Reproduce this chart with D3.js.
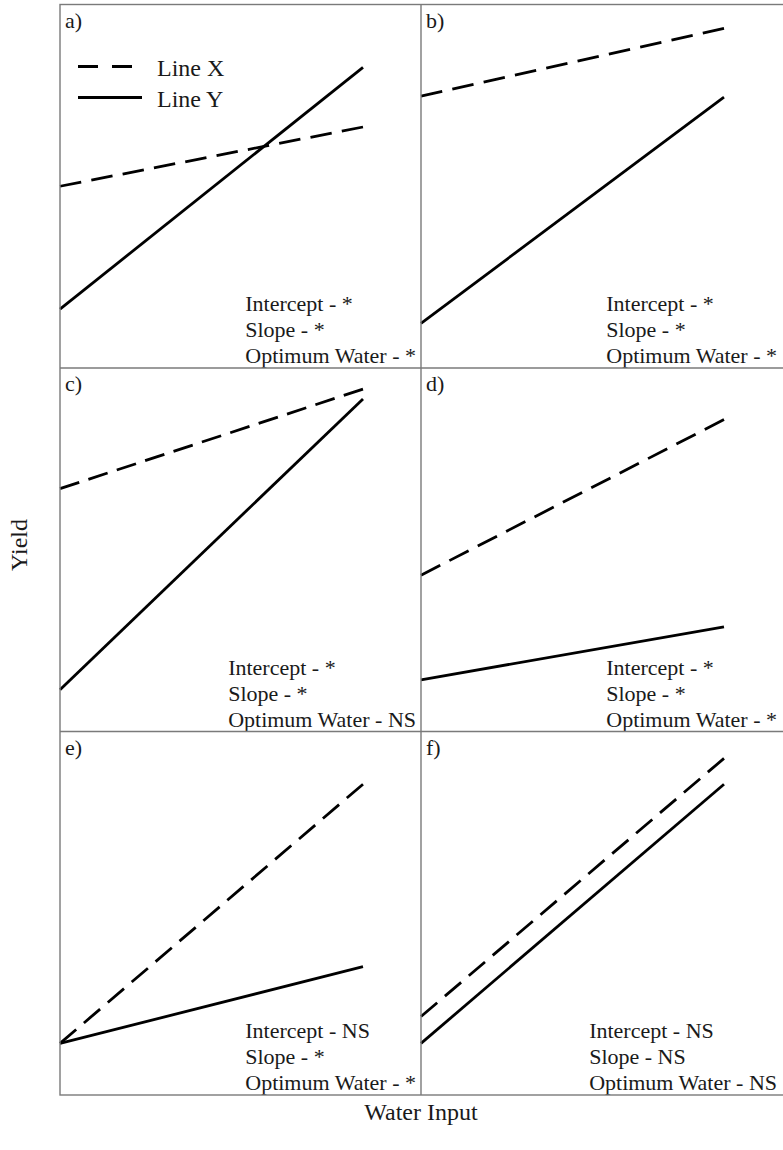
<!DOCTYPE html>
<html>
<head>
<meta charset="utf-8">
<script src="https://cdn.jsdelivr.net/npm/d3@7"></script>
<style>
  html, body { margin: 0; padding: 0; background: #fff; }
  svg { display: block; }
  text { font-family: "Liberation Serif", "Times New Roman", serif; fill: #1a1a1a; }
</style>
</head>
<body>
<svg id="chart" width="783" height="1150"></svg>
<script>
// ---- data ----
const panelLabels = ["a)", "b)", "c)", "d)", "e)", "f)"];
const waterInput = [0, 10];
const lineXStart = [5.0, 7.48, 6.68, 4.30, 1.42, 2.16];
const lineXEnd   = [6.63, 9.34, 9.42, 8.58, 8.55, 9.26];
const lineYStart = [1.62, 1.23, 1.15, 1.42, 1.42, 1.42];
const lineYEnd   = [8.27, 7.45, 9.15, 2.88, 3.53, 8.55];
const interceptSig = ["*", "*", "*", "*", "NS", "NS"];
const slopeSig     = ["*", "*", "*", "*", "*", "NS"];
const optimumSig   = ["*", "*", "NS", "*", "*", "NS"];
const legendLabels = ["Line X", "Line Y"];
const xAxisTitle = "Water Input";
const yAxisTitle = "Yield";

// ---- layout ----
const gridLeft = 60, gridTop = 4.5, colW = 361, rowH = 363.5;
const svg = d3.select("#chart");

const x = d3.scaleLinear().domain([0, 10]).range([0, 303]);
const y = d3.scaleLinear().domain([0, 10]).range([rowH, 0]);
const line = d3.line().x(d => x(d[0])).y(d => y(d[1]));

// fit a dash pattern so that the line starts and ends with a dash
function fitDash(path, dash, gap) {
  const L = path.node().getTotalLength();
  const n = Math.max(1, Math.round((L + gap) / (dash + gap)));
  const k = L / (n * dash + (n - 1) * gap);
  path.attr("stroke-dasharray", `${dash * k},${gap * k}`);
}

panelLabels.forEach((lab, i) => {
  const col = i % 2, row = Math.floor(i / 2);
  const g = svg.append("g")
    .attr("transform", `translate(${gridLeft + col * colW},${gridTop + row * rowH})`);

  const seriesX = waterInput.map((w, k) => [w, k === 0 ? lineXStart[i] : lineXEnd[i]]);
  const seriesY = waterInput.map((w, k) => [w, k === 0 ? lineYStart[i] : lineYEnd[i]]);

  const px = g.append("path").datum(seriesX).attr("d", line)
    .attr("fill", "none").attr("stroke", "#000").attr("stroke-width", 2.8);
  fitDash(px, 21, 10);
  g.append("path").datum(seriesY).attr("d", line)
    .attr("fill", "none").attr("stroke", "#000").attr("stroke-width", 2.8);

  g.append("text").attr("x", 5).attr("y", 23).attr("font-size", 22).text(lab);

  const stats = [
    "Intercept - " + interceptSig[i],
    "Slope - " + slopeSig[i],
    "Optimum Water - " + optimumSig[i]
  ];
  const tg = g.append("g");
  const texts = tg.selectAll("text").data(stats).join("text")
    .attr("font-size", 22)
    .attr("y", (d, k) => rowH - 5 - 26 * (2 - k))
    .text(d => d);
  let maxW = 0;
  texts.each(function () { maxW = Math.max(maxW, this.getComputedTextLength()); });
  texts.attr("x", 356 - maxW);
});

// legend in panel a
const lg = svg.append("g").attr("transform", `translate(${gridLeft},${gridTop})`);
[0, 1].forEach(k => {
  const yy = 62 + k * 31;
  lg.append("line").attr("x1", 18).attr("x2", k === 0 ? 72 : 82)
    .attr("y1", yy).attr("y2", yy)
    .attr("stroke", "#000").attr("stroke-width", 2.8)
    .attr("stroke-dasharray", k === 0 ? "20,14" : null);
  lg.append("text").attr("x", 97).attr("y", yy + 9).attr("font-size", 24).text(legendLabels[k]);
});

// grid borders
const border = svg.append("g").attr("fill", "none").attr("stroke", "#7a7a7a").attr("stroke-width", 1.4);
border.append("rect").attr("x", gridLeft).attr("y", gridTop)
  .attr("width", colW * 2 + 2).attr("height", rowH * 3);
border.append("line").attr("x1", gridLeft + colW).attr("x2", gridLeft + colW)
  .attr("y1", gridTop).attr("y2", gridTop + rowH * 3);
[1, 2].forEach(r => border.append("line")
  .attr("x1", gridLeft).attr("x2", gridLeft + colW * 2 + 2)
  .attr("y1", gridTop + r * rowH).attr("y2", gridTop + r * rowH));

// axis titles
svg.append("text").attr("x", gridLeft + colW).attr("y", 1120)
  .attr("text-anchor", "middle").attr("font-size", 24).text(xAxisTitle);
svg.append("text").attr("transform", "translate(27,545) rotate(-90)")
  .attr("text-anchor", "middle").attr("font-size", 24).text(yAxisTitle);
</script>
</body>
</html>
